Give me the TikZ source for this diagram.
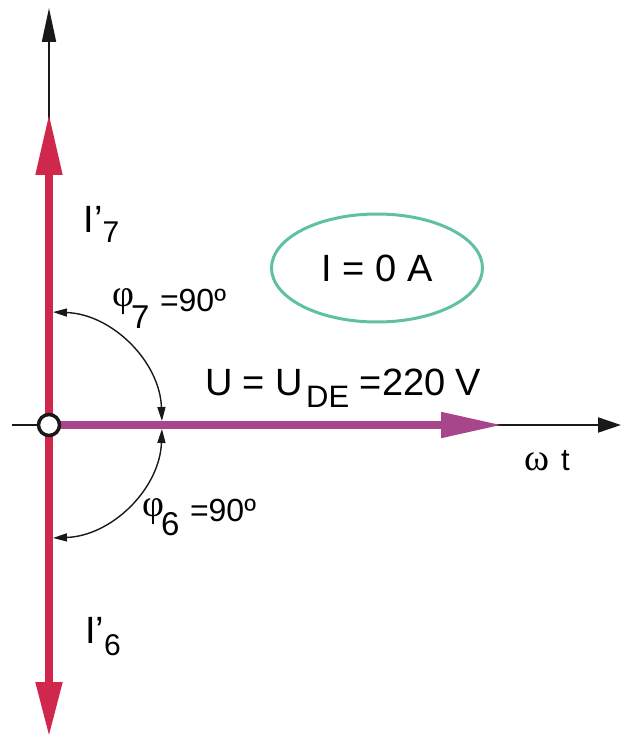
\documentclass[tikz,border=0pt]{standalone}
\usepackage{fontspec}
\setmainfont{Liberation Sans}
\newfontfamily\seriffont{Liberation Serif}
\usetikzlibrary{arrows.meta,shapes.geometric,calc}
\definecolor{vred}{RGB}{208,40,76}
\definecolor{vmag}{RGB}{168,70,140}
\definecolor{vteal}{RGB}{96,192,166}
\newcommand{\fs}[1]{\fontsize{#1}{#1}\selectfont}
\begin{document}
\begin{tikzpicture}[x=1pt,y=-1pt,
  axis/.style={draw=black!90, line width=2pt},
  redvec/.style={draw=vred, fill=vred, line width=8pt},
  magvec/.style={draw=vmag, fill=vmag, line width=8pt},
  anglearc/.style={draw=black!90, line width=1.4pt, {Triangle[length=14pt,width=8pt]}-{Triangle[length=14pt,width=8pt]}},
  lbl/.style={anchor=base west, inner sep=0pt, outer sep=0pt}]
\useasboundingbox (0,0) rectangle (621,738);
\coordinate (O) at (49,425);
\coordinate (ytop) at (49,8);
\coordinate (xl) at (12,425);
\coordinate (xr) at (621,425);
\coordinate (i7) at (49,113);
\coordinate (i6) at (49,737);
\coordinate (u) at (503,425);
% axes
\draw[axis, -{Triangle[length=34pt,width=14pt]}] (O) -- (ytop);
\draw[axis, -{Triangle[length=23pt,width=15pt]}] (xl) -- (xr);
% vectors
\draw[redvec, -{Triangle[length=62pt,width=25pt]}] (O) -- (i7);
\draw[redvec, -{Triangle[length=55pt,width=25pt]}] (O) -- (i6);
\draw[magvec, -{Triangle[length=62pt,width=24pt]}] (O) -- (u);
% angle arcs
\draw[anglearc] ($(O)+(-2:113)$) arc[start angle=-2, end angle=-88, radius=113];
\draw[anglearc] ($(O)+(2:113)$) arc[start angle=2, end angle=88, radius=113];
% origin circle
\node[circle, draw=black!90, line width=3.5pt, fill=white, minimum size=21pt, inner sep=0pt] (o) at (O) {};
% ellipse
\node[ellipse, draw=vteal, line width=3pt, minimum width=211pt, minimum height=108pt, inner sep=0pt, font=\fs{38}] (e) at (377,268) {I = 0 A};
% labels
\node[lbl] (l7) at (83.5,232) {\fs{38}I’\raisebox{-10pt}{\fs{30}7}};
\node[lbl] (l6) at (85,643) {\fs{38}I’\raisebox{-12pt}{\fs{30}6}};
\node[lbl] (p7) at (112,311) {\rlap{\raisebox{5pt}{\seriffont\fs{38}φ}}\hspace{19pt}\rlap{\raisebox{-17pt}{\fs{33}7}}\hspace{29pt}{\fs{32}=90º}};
\node[lbl] (p6) at (142,521) {\rlap{\raisebox{5pt}{\seriffont\fs{38}φ}}\hspace{19pt}\rlap{\raisebox{-14pt}{\fs{33}6}}\hspace{29pt}{\fs{32}=90º}};
\node[lbl] (ul) at (205,395) {\fs{38}U = U\hspace{3pt}\raisebox{-12pt}{\fs{31}DE} =220 V};
\node[lbl] (wt) at (524,470) {\rlap{\seriffont\fs{38}ω}\hspace{37pt}{\fs{31}t}};
\end{tikzpicture}
\end{document}
